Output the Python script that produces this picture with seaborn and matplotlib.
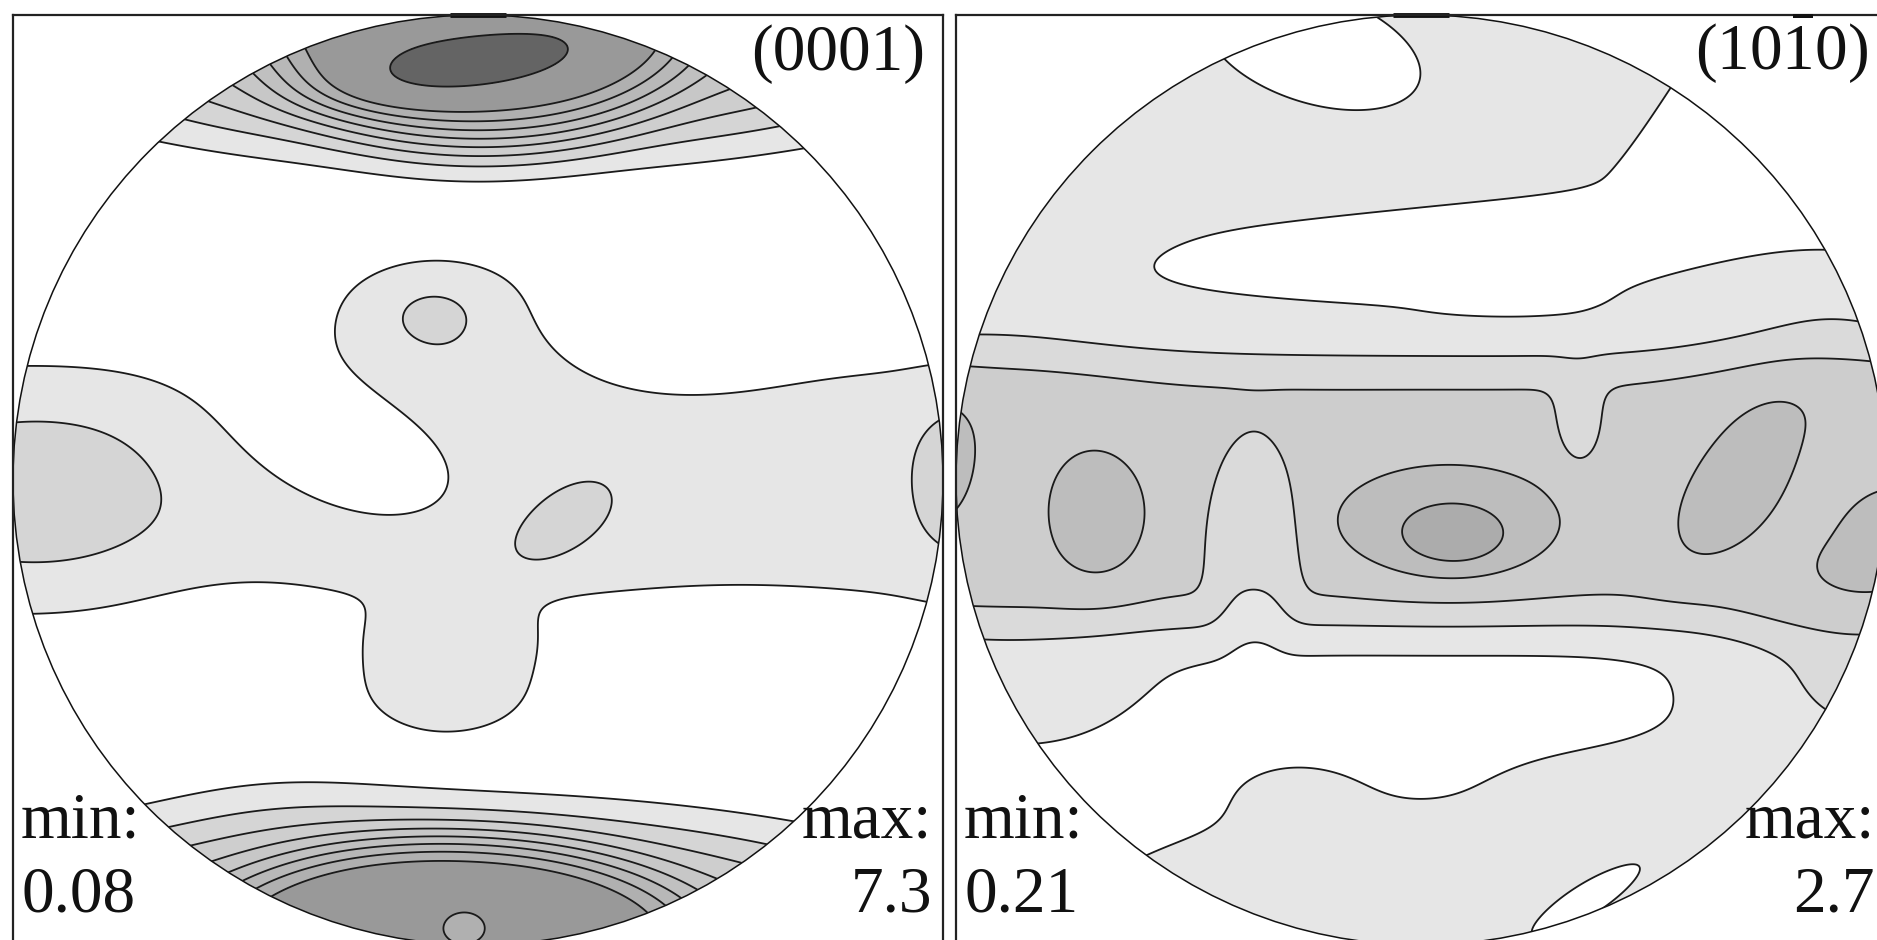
import numpy as np
import matplotlib
matplotlib.use("Agg")
import matplotlib.pyplot as plt
from matplotlib.patches import Circle
import seaborn as sns

# ---------------- data ----------------
# Pole-figure intensity fields, each described as a sum of smooth lobes
# centre (u, v), half-widths, tilt (deg), height, edge sharpness.
left_title = "(0001)"
left_min, left_max = "0.08", "7.3"
left_base = 0.4
left_cu  = [0.00, -0.32, -0.08, -0.096, -0.06, -0.95, 0.17, 1.04, 0.00, 0.05, 0.00, -0.06, -0.06, -0.10, 0.00, -0.03, 0.42, -0.50, 0.55, -0.42]
left_cv  = [-0.02, 0.10, 0.36, 0.36, -0.42, -0.03, -0.10, 0.00, 1.00, 1.00, 1.00, 0.875, -1.00, -1.00, -1.00, -0.965, 0.30, -0.32, -0.36, -0.70]
left_su  = [4.00, 0.22, 0.24, 0.075, 0.22, 0.20, 0.095, 0.08, 0.40, 0.85, 3.00, 0.22, 0.46, 0.90, 3.00, 0.06, 0.20, 0.18, 0.30, 0.20]
left_sv  = [0.26, 0.11, 0.12, 0.05, 0.13, 0.13, 0.05, 0.14, 0.25, 0.25, 0.20, 0.05, 0.20, 0.24, 0.22, 0.045, 0.10, 0.10, 0.12, 0.08]
left_ang = [0, -25, 0, 0, 0, 0, 35, 0, 0, 0, 0, 8, 0, 0, 0, 0, 0, 0, 0, 0]
left_amp = [1.0, -0.9, 0.85, 0.45, 0.8, 0.55, 0.6, 0.5, 2.8, 2.6, 0.5, 0.9, 3.0, 2.6, 0.5, -1.7, -0.5, -0.4, -0.4, 0.3]
left_pow = [4, 2, 2, 2, 4, 2, 2, 2, 5, 4, 2, 2, 5, 4, 2, 2, 2, 2, 2, 2]
left_levels = [1.0, 1.6, 2.2, 2.8, 3.4, 4.0, 4.6, 5.2, 6.6]
left_colors = ["#ffffff", "#e6e6e6", "#d5d5d5", "#cecece", "#c7c7c7", "#c0c0c0",
               "#b8b8b8", "#b0b0b0", "#999999", "#646464"]

right_title = r"$\mathrm{(10\bar{1}0)}$"
right_min, right_max = "0.21", "2.7"
right_base = 0.4
right_cu  = [0.00, 0.00, -0.10, 0.10, 0.95, -0.22, 0.05, 0.38, 0.95, -0.36, 0.34, -0.695, 0.06, 0.073, 0.67, -1.05, 1.04, -0.95, -0.90, 0.95, 0.90, -0.27, 0.33, 0.58, -0.45]
right_cv  = [-0.025, -0.025, 0.95, 0.50, 0.75, 0.93, -1.00, -0.89, -0.45, -0.12, 0.12, -0.082, -0.10, -0.126, -0.01, 0.035, -0.10, 0.38, -0.42, -0.40, 0.35, -0.66, -0.65, -0.78, 0.39]
right_su  = [5.00, 5.00, 0.70, 0.55, 0.30, 0.24, 0.70, 0.16, 0.18, 0.09, 0.035, 0.072, 0.165, 0.07, 0.13, 0.07, 0.07, 0.25, 0.25, 0.25, 0.25, 0.12, 0.15, 0.16, 0.22]
right_sv  = [0.27, 0.28, 0.30, 0.07, 0.20, 0.12, 0.24, 0.035, 0.28, 0.19, 0.07, 0.096, 0.09, 0.04, 0.06, 0.12, 0.06, 0.20, 0.15, 0.15, 0.15, 0.06, 0.06, 0.14, 0.06]
right_ang = [0, 0, 0, 5, 0, -15, 0, 32, 0, 0, 0, 0, 0, 0, 57, 0, 0, 0, 0, 0, 0, 0, 0, 0, 0]
right_amp = [0.85, 0.45, 0.70, -0.40, -0.40, -0.55, 0.60, -0.5, 0.35, -0.45, -0.4, 0.5, 0.6, 0.5, 0.45, 0.3, 0.2, 0.35, 0.30, 0.30, 0.50, 0.12, 0.12, 0.40, 0.15]
right_pow = [6, 2, 2, 4, 2, 4, 2, 2, 2, 4, 2, 2, 2, 2, 2, 2, 2, 2, 2, 2, 2, 2, 2, 2, 2]
right_levels = [0.7, 1.1, 1.5, 1.9, 2.3]
right_colors = ["#ffffff", "#e6e6e6", "#dadada", "#cdcdcd", "#bdbdbd", "#acacac"]

# ---------------- style ----------------
sns.set_theme(style="white")
plt.rcParams["font.family"] = ["Liberation Serif", "DejaVu Serif"]
plt.rcParams["mathtext.fontset"] = "custom"
plt.rcParams["mathtext.rm"] = "Liberation Serif"
plt.rcParams["mathtext.it"] = "Liberation Serif:italic"

W, H = 1877, 940
fig = plt.figure(figsize=(W / 100, H / 100), dpi=100)
fig.patch.set_facecolor("white")

g = np.linspace(-1.02, 1.02, 700)
X, Y = np.meshgrid(g, g)


def field(base, cu, cv, su, sv, ang, amp, pw):
    Z = np.full_like(X, base)
    for a, b, s1, s2, t, h, p in zip(cu, cv, su, sv, ang, amp, pw):
        th = np.radians(t)
        dx, dy = X - a, Y - b
        xr = dx * np.cos(th) + dy * np.sin(th)
        yr = -dx * np.sin(th) + dy * np.cos(th)
        r2 = (xr / s1) ** 2 + (yr / s2) ** 2
        Z += h * np.exp(-0.5 * r2 ** (p / 2.0))
    return Z


def panel(x0, Z, levels, colors, title, vmin, vmax):
    size = 930
    ax = fig.add_axes([x0 / W, (H - 15 - size) / H, size / W, size / H])
    ax.set_xlim(-1, 1)
    ax.set_ylim(-1, 1)
    ax.set_xticks([])
    ax.set_yticks([])
    ax.set_facecolor("white")
    for s in ax.spines.values():
        s.set_visible(True)
        s.set_color("#222222")
        s.set_linewidth(1.6)
    clip = Circle((0, 0), 1, transform=ax.transData)
    cf = ax.contourf(X, Y, Z, levels=[-100] + levels + [100], colors=colors)
    cf.set_clip_path(clip)
    cl = ax.contour(X, Y, Z, levels=levels, colors="#1a1a1a", linewidths=1.3)
    cl.set_clip_path(clip)
    ax.add_patch(Circle((0, 0), 1, facecolor="none", edgecolor="#111111", lw=1.1))
    # north marker at top of the projection circle
    ax.plot([-0.06, 0.06], [1.0, 1.0], color="#111111", lw=3.5, solid_capstyle="butt", clip_on=False)
    fs = 47
    xr = x0 + size - 11
    fig.text((x0 + size - 18) / W, 1 - 70 / H, title, ha="right", va="baseline", fontsize=fs, color="#111111")
    fig.text((x0 + 8) / W, 1 - 837 / H, "min:", ha="left", va="baseline", fontsize=fs, color="#111111")
    fig.text((x0 + 8) / W, 1 - 912 / H, vmin, ha="left", va="baseline", fontsize=fs, color="#111111")
    fig.text(xr / W, 1 - 837 / H, "max:", ha="right", va="baseline", fontsize=fs, color="#111111")
    fig.text(xr / W, 1 - 912 / H, vmax, ha="right", va="baseline", fontsize=fs, color="#111111")


ZL = field(left_base, left_cu, left_cv, left_su, left_sv, left_ang, left_amp, left_pow)
ZR = field(right_base, right_cu, right_cv, right_su, right_sv, right_ang, right_amp, right_pow)

panel(13, ZL, left_levels, left_colors, left_title, left_min, left_max)
panel(956, ZR, right_levels, right_colors, right_title, right_min, right_max)

fig.savefig("out.png", dpi=100, facecolor="white")
